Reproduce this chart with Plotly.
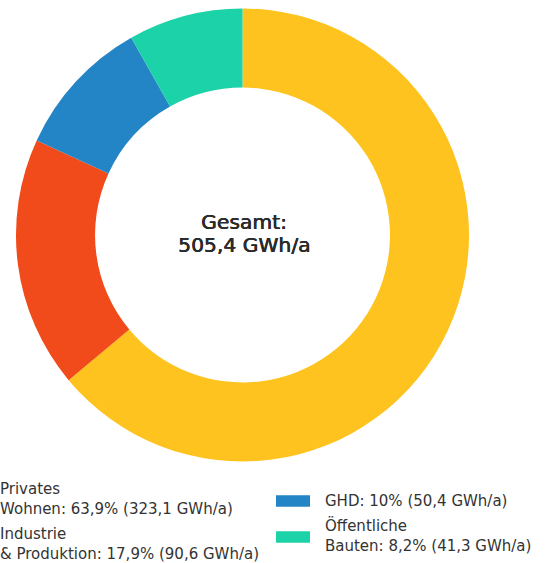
import plotly.graph_objects as go

# ---- data ----
labels = ["Privates Wohnen", "Industrie & Produktion", "GHD", "Öffentliche Bauten"]
legend_lines = [["Privates", "Wohnen"], ["Industrie", "& Produktion"], ["GHD"], ["Öffentliche", "Bauten"]]
values = [323.1, 90.6, 50.4, 41.3]  # GWh/a
colors = ["#FEC31E", "#F14A1B", "#2485C6", "#1CD2A9"]
unit = "GWh/a"
center_title = "Gesamt:"

W, H = 546, 563
FONT = "DejaVu Sans"
TXT = "#333333"

total = sum(values)


def de(x, nd=1):
    s = f"{x:.{nd}f}"
    if s.endswith(".0"):
        s = s[:-2]
    return s.replace(".", ",")


fig = go.Figure(
    go.Pie(
        labels=labels,
        values=values,
        marker=dict(colors=colors, line=dict(color="white", width=0)),
        hole=0.651,
        sort=False,
        direction="clockwise",
        rotation=0,
        textinfo="none",
        hoverinfo="label+value+percent",
        showlegend=False,
        domain=dict(x=[16 / W, 469 / W], y=[1 - 462 / H, 1 - 8 / H]),
    )
)


def px_ann(text, x, y, size, xanchor="left", weight=400, color=TXT, shadow="none"):
    return dict(
        text=text, x=x / W, y=1 - y / H, xref="paper", yref="paper",
        xanchor=xanchor, yanchor="middle", showarrow=False, borderpad=0,
        align="left",
        font=dict(family=FONT, size=size, color=color, weight=weight, shadow=shadow),
    )


medium = "0.5px 0px 0px #2b2b2b, 0px 0.3px 0px #2b2b2b"
annotations = [
    px_ann(center_title, 243.5, 222, 20.3, "center", 400, "#2b2b2b", medium),
    px_ann(f"{de(total)} {unit}", 243.5, 245.5, 20.3, "center", 400, "#2b2b2b", medium),
]
shapes = []

# legend: 2 columns (column-major), manual placement
col_text_x = [-1, 324]
block_y = [498.5, 543.5, 500.5, 535.5]
swatch_y = [499, 543, 501, 537]
sw_w, sw_h, sw_gap = 34, 11.5, 15
for i, (lines, v, c) in enumerate(zip(legend_lines, values, colors)):
    col = i // 2
    tx = col_text_x[col]
    pct = de(v / total * 100)
    texts = lines[:-1] + [f"{lines[-1]}: {pct}% ({de(v)} {unit})"]
    annotations.append(px_ann("<br>".join(texts), tx, block_y[i], 15))
    sx1 = tx + 1 - sw_gap
    sx0 = sx1 - sw_w
    cy = swatch_y[i]
    shapes.append(
        dict(
            type="rect", xref="paper", yref="paper",
            x0=sx0 / W, x1=sx1 / W,
            y0=1 - (cy + sw_h / 2) / H, y1=1 - (cy - sw_h / 2) / H,
            fillcolor=c, line=dict(width=0),
        )
    )

fig.update_layout(
    width=W, height=H,
    margin=dict(l=0, r=0, t=0, b=0),
    paper_bgcolor="white",
    plot_bgcolor="white",
    annotations=annotations,
    shapes=shapes,
    font=dict(family=FONT, color=TXT),
)

fig.write_html(
    "out.html",
    config={"displayModeBar": False},
    post_script="document.body.style.margin='0px';",
)
